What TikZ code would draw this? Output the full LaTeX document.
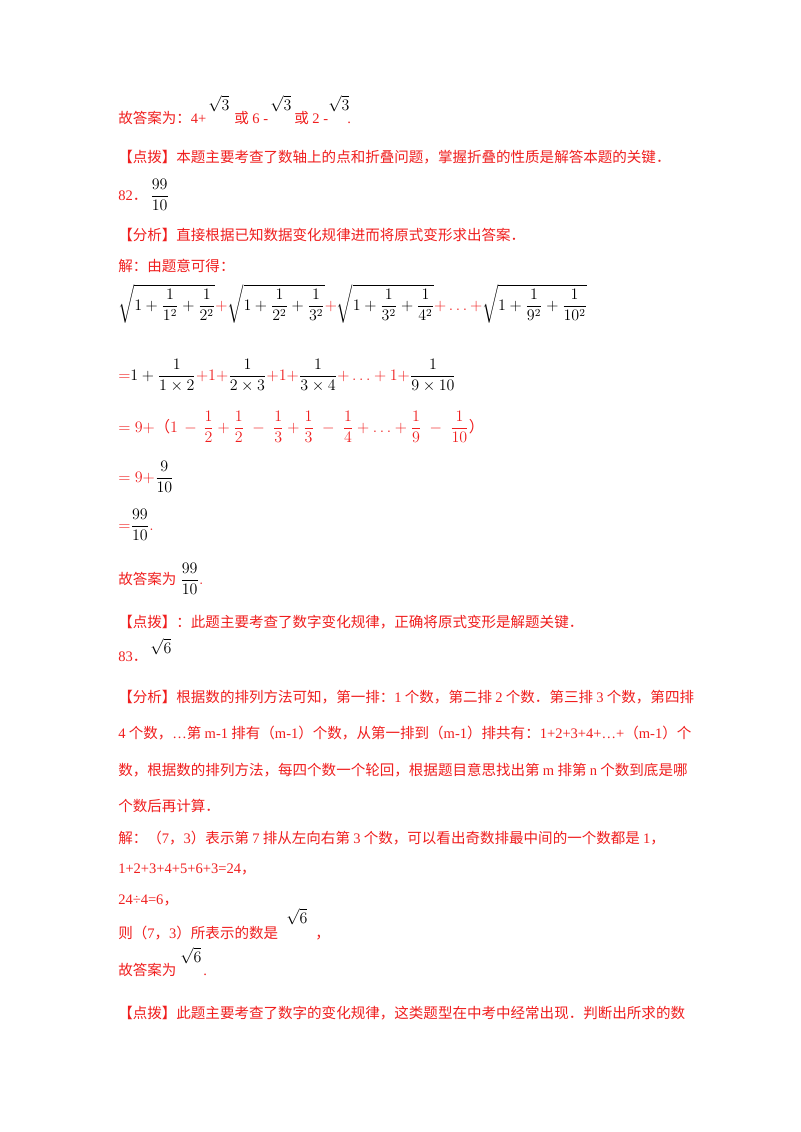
\documentclass[tikz,border=0pt]{standalone}
\usepackage{fontspec}
\usepackage{amsmath}
\setmainfont{Liberation Serif}
\newfontfamily\cjk{Noto Sans CJK SC}
\definecolor{rd}{RGB}{240,30,30}
\newcommand{\R}[1]{\textcolor{rd}{#1}}
\begin{document}
\begin{tikzpicture}[x=0.75pt,y=-0.75pt,
  tx/.style={anchor=base west,inner sep=0pt,font=\fontsize{10.9}{14}\selectfont\cjk,text=rd},
  mt/.style={anchor=base west,inner sep=0pt,font=\fontsize{11.5}{14}\selectfont}]
\useasboundingbox[fill=white] (0,0) rectangle (800,1132);
% line 1
\node[tx] (l1) at (118,123) {故答案为：{\rmfamily 4+}};
\node[mt] (s1) at (208,110) {$\sqrt{3}$};
\node[tx] (l1b) at (234,123) {或{\rmfamily\ 6 -}};
\node[mt] (s2) at (270,110) {$\sqrt{3}$};
\node[tx] (l1c) at (294,123) {或{\rmfamily\ 2 -}};
\node[mt] (s3) at (328,110) {$\sqrt{3}$};
\node[tx] (l1d) at (347,123) {{\rmfamily .}};
\node[tx] (l2) at (118,162) {【点拨】本题主要考查了数轴上的点和折叠问题，掌握折叠的性质是解答本题的关键．};
\node[tx] (l3) at (118,200) {{\rmfamily 82}．};
\node[mt] (f3) at (150,200) {$\dfrac{99}{10}$};
\node[tx] (l4) at (118,240) {【分析】直接根据已知数据变化规律进而将原式变形求出答案．};
\node[tx] (l5) at (118,271) {解：由题意可得：};
\node[mt] (e1) at (118,310) {$\sqrt{1+\dfrac{1}{1^2}+\dfrac{1}{2^2}}\R{+}\sqrt{1+\dfrac{1}{2^2}+\dfrac{1}{3^2}}\R{+}\sqrt{1+\dfrac{1}{3^2}+\dfrac{1}{4^2}}\R{+\ldots+}\sqrt{1+\dfrac{1}{9^2}+\dfrac{1}{10^2}}$};
\node[mt] (e2) at (118,380) {$\R{=}1+\dfrac{1}{1\times2}\R{+1+}\dfrac{1}{2\times3}\R{+1+}\dfrac{1}{3\times4}\R{+\ldots+1+}\dfrac{1}{9\times10}$};
\node[mt,text=rd] (e3) at (118,432) {$=9+${\cjk （}$1\,-\,\dfrac12+\dfrac12\;-\;\dfrac13+\dfrac13\;-\;\dfrac14+\ldots+\dfrac19\;-\;\dfrac1{10}${\cjk ）}};
\node[mt] (e4) at (118,482) {$\R{=9+}\dfrac{9}{10}$};
\node[mt] (e5) at (118,530) {$\R{=}\dfrac{99}{10}\R{.}$};
\node[tx] (l6) at (118,584) {故答案为};
\node[mt] (f6) at (180,584) {$\dfrac{99}{10}\R{.}$};
\node[tx] (l7) at (118,627) {【点拨】：此题主要考查了数字变化规律，正确将原式变形是解题关键．};
\node[tx] (l8) at (118,661) {{\rmfamily 83}．};
\node[mt] (s8) at (150,653) {$\sqrt{6}$};
\node[tx] (l9) at (118,702) {【分析】根据数的排列方法可知，第一排：{\rmfamily 1} 个数，第二排 {\rmfamily 2} 个数．第三排 {\rmfamily 3} 个数，第四排};
\node[tx] (l10) at (118,738) {{\rmfamily 4} 个数，{\rmfamily…}第 {\rmfamily m-1} 排有（{\rmfamily m-1}）个数，从第一排到（{\rmfamily m-1}）排共有：{\rmfamily 1+2+3+4+…+}（{\rmfamily m-1}）个};
\node[tx] (l11) at (118,775) {数，根据数的排列方法，每四个数一个轮回，根据题目意思找出第 {\rmfamily m} 排第 {\rmfamily n} 个数到底是哪};
\node[tx] (l12) at (118,811) {个数后再计算．};
\node[tx] (l13) at (118,843) {解：（{\rmfamily 7}，{\rmfamily 3}）表示第 {\rmfamily 7} 排从左向右第 {\rmfamily 3} 个数，可以看出奇数排最中间的一个数都是 {\rmfamily 1}，};
\node[tx] (l14) at (118,873) {{\rmfamily 1+2+3+4+5+6+3=24}，};
\node[tx] (l15) at (118,904) {{\rmfamily 24÷4=6}，};
\node[tx] (l16) at (118,938) {则（{\rmfamily 7}，{\rmfamily 3}）所表示的数是};
\node[mt] (s16) at (286,923) {$\sqrt{6}$};
\node[tx] (l16b) at (315,938) {，};
\node[tx] (l17) at (118,975) {故答案为};
\node[mt] (s17) at (180,962) {$\sqrt{6}$};
\node[tx] (l17b) at (203,975) {\rmfamily .};
\node[tx] (l18) at (118,1018) {【点拨】此题主要考查了数字的变化规律，这类题型在中考中经常出现．判断出所求的数};
\end{tikzpicture}
\end{document}
